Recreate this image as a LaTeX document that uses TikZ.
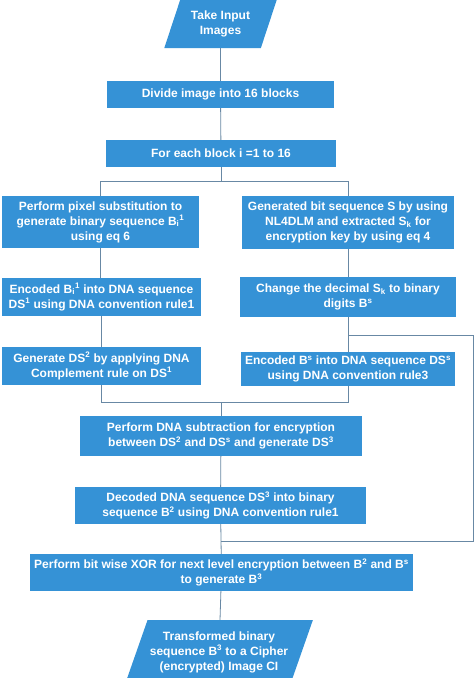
\documentclass[tikz,border=0pt]{standalone}
\usepackage{fontspec}
\setmainfont{Liberation Sans}
\usetikzlibrary{shapes.geometric}
\definecolor{flowblue}{RGB}{53,146,214}
\definecolor{flowline}{RGB}{104,136,164}
\tikzset{
  stepbox/.style={fill=flowblue, text=white, font=\bfseries\fontsize{12}{15}\selectfont,
    align=center, inner sep=1pt},
  iobox/.style={stepbox, trapezium, trapezium stretches=true},
  link/.style={draw=flowline, line width=0.8pt}
}

\begin{document}
\begin{tikzpicture}[x=1pt, y=-1pt]
			%%%%% START %%%%%
			\useasboundingbox (0,0) rectangle (474,678);
			\fill[white] (0,0) rectangle (474,678);
			
			\node[iobox, trapezium left angle=67, trapezium right angle=113,
			  minimum width=113, minimum height=48] (input) at (220.5,24) {Take Input\\Images};
			
			\node[stepbox, minimum width=227, minimum height=27] (divide) at (220.5,94.5) {Divide image into 16 blocks};
			\node[stepbox, minimum width=230, minimum height=27] (foreach) at (221,153.5) {For each block i =1 to 16};
			
			\node[stepbox, minimum width=197, minimum height=52] (pixsub) at (100.5,222)
			  {Perform pixel substitution to\\generate binary sequence B\textsubscript{i}\textsuperscript{1}\\using eq 6};
			\node[stepbox, minimum width=212, minimum height=53] (genbits) at (348,222.5)
			  {Generated bit sequence S by using\\NL4DLM and extracted S\textsubscript{k} for\\encryption key by using eq 4};
			
			\node[stepbox, minimum width=199, minimum height=38] (encb) at (101.5,297)
			  {Encoded B\textsubscript{i}\textsuperscript{1} into DNA sequence\\DS\textsuperscript{1} using DNA convention rule1};
			\node[stepbox, minimum width=216, minimum height=40] (chdec) at (348,297)
			  {Change the decimal S\textsubscript{k} to binary\\digits B\textsuperscript{s}};
			
			\node[stepbox, minimum width=199, minimum height=38] (compl) at (101.5,366)
			  {Generate DS\textsuperscript{2} by applying DNA\\Complement rule on DS\textsuperscript{1}};
			\node[stepbox, minimum width=214, minimum height=34] (encbs) at (348,369)
			  {Encoded B\textsuperscript{s} into DNA sequence DS\textsuperscript{s}\\using DNA convention rule3};
			
			\node[stepbox, minimum width=282, minimum height=40] (subtr) at (221,436)
			  {Perform DNA subtraction for encryption\\between DS\textsuperscript{2} and DS\textsuperscript{s} and generate DS\textsuperscript{3}};
			\node[stepbox, minimum width=291, minimum height=37] (decode) at (220.5,505.5)
			  {Decoded DNA sequence DS\textsuperscript{3} into binary\\sequence B\textsuperscript{2} using DNA convention rule1};
			\node[stepbox, minimum width=383, minimum height=37] (xorop) at (221.5,572.5)
			  {Perform bit wise XOR for next level encryption between B\textsuperscript{2} and B\textsuperscript{s}\\to generate B\textsuperscript{3}};
			
			\node[iobox, trapezium left angle=63, trapezium right angle=117,
			  minimum width=188, minimum height=64] (output) at (219,652)
			  {Transformed binary\\sequence B\textsuperscript{3} to a Cipher\\(encrypted) Image CI};
			
			% junctions
			\coordinate (split) at (221,181);
			\coordinate (merge) at (221,402);
			\coordinate (tap) at (348,335);
			\coordinate (rim) at (473,335);
			\coordinate (feed) at (221,541);
			
			\draw[link] (input) -- (divide);
			\draw[link] (divide) -- (foreach);
			\draw[link] (foreach) -- (split);
			\draw[link] (split) -| (pixsub);
			\draw[link] (split) -| (genbits);
			\draw[link] (pixsub) -- (encb.north -| pixsub.south);
			\draw[link] (encb) -- (compl);
			\draw[link] (genbits) -- (chdec);
			\draw[link] (chdec) -- (encbs);
			\draw[link] (tap) -- (rim) |- (feed);
			\draw[link] (compl) |- (merge);
			\draw[link] (encbs) |- (merge);
			\draw[link] (merge) -- (subtr);
			\draw[link] (subtr) -- (decode);
			\draw[link] (decode) -- (xorop);
			\draw[link] (xorop) -- (output);
			
			%%%%% END %%%%%
\end{tikzpicture}
\end{document}
